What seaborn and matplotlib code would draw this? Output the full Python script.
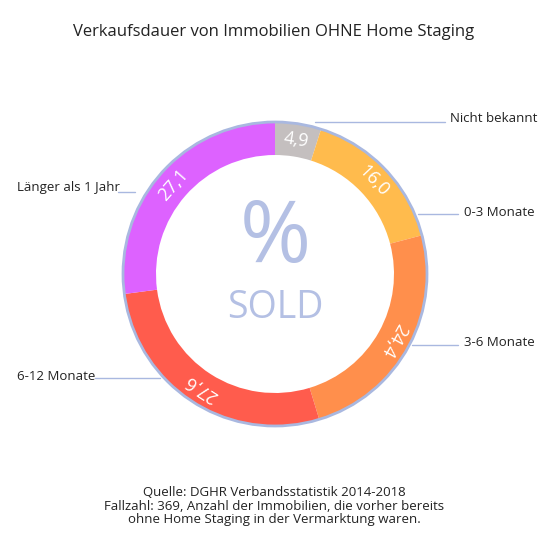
import numpy as np
import matplotlib
matplotlib.use("Agg")
import matplotlib.pyplot as plt
import seaborn as sns
from matplotlib.patches import Circle

sns.set_theme(style="white")
plt.rcParams['font.family'] = ['Open Sans', 'DejaVu Sans']

# data
categories = ["Nicht bekannt", "0-3 Monate", "3-6 Monate", "6-12 Monate", "Länger als 1 Jahr"]
values = [4.9, 16.0, 24.4, 27.6, 27.1]
colors = ["#c4bfbf", "#ffbb4d", "#ff8f4c", "#ff5c4d", "#dd62ff"]

W = 548
fig = plt.figure(figsize=(5.48, 5.48), dpi=100)
ax = fig.add_axes([0, 0, 1, 1])
ax.set_xlim(0, W)
ax.set_ylim(W, 0)
ax.axis("off")

cx, cy, R, width = 275, 274, 152, 33
# y is inverted, so mirror: counterclock=True draws clockwise on screen
wedges, _ = ax.pie(values, colors=colors, startangle=-90, counterclock=True,
                   radius=R, center=(cx, cy), frame=True,
                   wedgeprops=dict(width=width, linewidth=0))
ax.set_xlim(0, W)
ax.set_ylim(W, 0)
ax.set_aspect("equal")
ax.axis("off")
ax.add_patch(Circle((cx, cy), R, fill=False, ec="#a9b8e0", lw=2))

# value labels along the ring
cum = 0
for v in values:
    mid = cum + v / 2
    cum += v
    theta = 90 - mid * 3.6  # math angle, clockwise from top
    r = R - width / 2
    x = cx + r * np.cos(np.radians(theta))
    y = cy - r * np.sin(np.radians(theta))
    ax.text(x, y, f"{v:.1f}".replace(".", ","), rotation=theta - 90,
            rotation_mode="anchor", ha="center", va="center",
            color="white", fontsize=13)

# center text
ax.text(cx, 240, "%", ha="center", va="center", fontsize=62, color="#b4c0e4")
ax.text(cx, 308, "SOLD", ha="center", va="center", fontsize=27, color="#b4c0e4")

# leader lines and category labels
lc = "#a9b8e0"
ax.plot([315, 445], [122, 122], color=lc, lw=1)
ax.text(450, 118, categories[0], ha="left", va="center", fontsize=9.5, color="#222222")
ax.plot([418, 458], [214, 214], color=lc, lw=1)
ax.text(464, 212, categories[1], ha="left", va="center", fontsize=9.5, color="#222222")
ax.plot([412, 458], [345, 345], color=lc, lw=1)
ax.text(464, 343, categories[2], ha="left", va="center", fontsize=9.5, color="#222222")
ax.plot([95, 160], [378, 378], color=lc, lw=1)
ax.text(17, 376, categories[3], ha="left", va="center", fontsize=9.5, color="#222222")
ax.plot([118, 135], [192, 192], color=lc, lw=1)
ax.text(17, 188, categories[4], ha="left", va="center", fontsize=9.5, color="#222222")

ax.text(274, 32, "Verkaufsdauer von Immobilien OHNE Home Staging", ha="center",
        va="center", fontsize=12, color="#222222")
ax.text(274, 506, "Quelle: DGHR Verbandsstatistik 2014-2018\n"
        "Fallzahl: 369, Anzahl der Immobilien, die vorher bereits\n"
        "ohne Home Staging in der Vermarktung waren.",
        ha="center", va="center", fontsize=9.5, color="#222222", linespacing=1.1)

fig.savefig("out.png", dpi=100, facecolor="white")
